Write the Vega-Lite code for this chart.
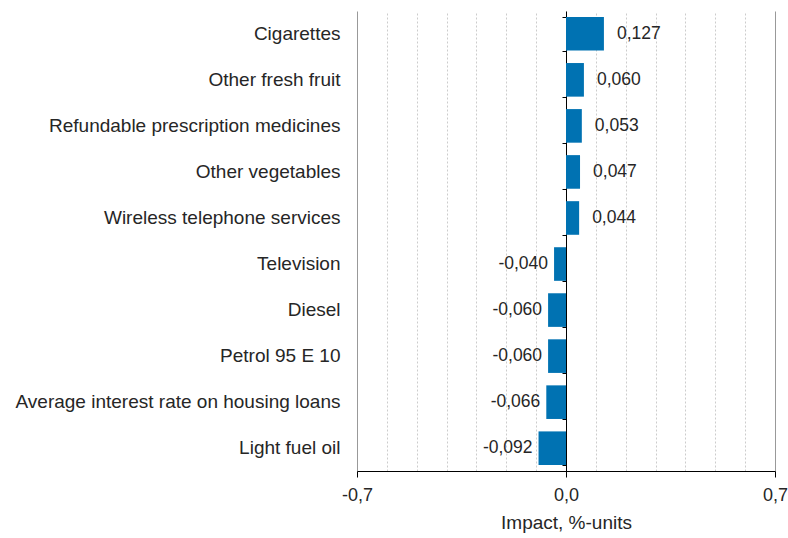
{
  "$schema": "https://vega.github.io/schema/vega-lite/v6.json",
  "width": 418,
  "height": 460,
  "padding": {"left": 15, "top": 11, "right": 6, "bottom": 2},
  "config": {
    "locale": {"number": {"decimal": ",", "thousands": " ", "grouping": [3], "currency": ["", ""], "minus": "-"}},
    "view": {"stroke": null},
    "font": "Liberation Sans"
  },
  "data": {"values": [
    {"item": "Cigarettes", "value": 0.127},
    {"item": "Other fresh fruit", "value": 0.060},
    {"item": "Refundable prescription medicines", "value": 0.053},
    {"item": "Other vegetables", "value": 0.047},
    {"item": "Wireless telephone services", "value": 0.044},
    {"item": "Television", "value": -0.040},
    {"item": "Diesel", "value": -0.060},
    {"item": "Petrol 95 E 10", "value": -0.060},
    {"item": "Average interest rate on housing loans", "value": -0.066},
    {"item": "Light fuel oil", "value": -0.092}
  ]},
  "encoding": {
    "x": {
      "field": "value", "type": "quantitative",
      "scale": {"domain": [-0.7, 0.7], "nice": false, "zero": false},
      "axis": {
        "values": [-0.7, -0.6, -0.5, -0.4, -0.3, -0.2, -0.1, 0, 0.1, 0.2, 0.3, 0.4, 0.5, 0.6, 0.7],
        "format": ".1f",
        "labelExpr": "abs(datum.value) < 0.001 || abs(abs(datum.value) - 0.7) < 0.001 ? datum.label : ''",
        "labelOverlap": false,
        "labelFlush": false,
        "labelFontSize": 18,
        "labelColor": "#262626",
        "labelPadding": 9,
        "title": "Impact, %-units",
        "titleFontSize": 19,
        "titleFontWeight": "normal",
        "titleColor": "#262626",
        "titlePadding": 9,
        "domainColor": "#000000",
        "tickColor": "#000000",
        "tickSize": 6,
        "tickOpacity": {"condition": {"test": "abs(datum.value) < 0.001 || abs(abs(datum.value) - 0.7) < 0.001", "value": 1}, "value": 0},
        "grid": true,
        "gridColor": {"condition": {"test": "abs(abs(datum.value) - 0.7) < 0.001", "value": "#999999"}, "value": "#cccccc"},
        "gridDash": {"condition": {"test": "abs(abs(datum.value) - 0.7) < 0.001 || abs(datum.value) < 0.001", "value": []}, "value": [2, 2]},
        "gridOpacity": 1
      }
    }
  },
  "layer": [
    {
      "mark": {"type": "bar", "color": "#0072b2"},
      "encoding": {
        "y": {
          "field": "item", "type": "nominal", "sort": null,
          "scale": {"paddingInner": 0.27, "paddingOuter": 0.13},
          "axis": {"title": null, "domain": false, "ticks": false, "grid": false, "labelFontSize": 19, "labelColor": "#262626", "labelPadding": 17, "labelLimit": 500}
        }
      }
    },
    {
      "transform": [{"filter": "datum.value > 0"}],
      "mark": {"type": "text", "align": "left", "baseline": "middle", "dx": 13, "fontSize": 17.5, "color": "#262626"},
      "encoding": {
        "y": {
          "field": "item", "type": "nominal", "sort": null,
          "axis": {"orient": "left", "offset": -209, "title": null, "labels": false, "grid": false, "domain": true, "domainColor": "#000000", "ticks": true, "tickColor": "#000000", "tickSize": 4, "tickBand": "extent"}
        },
        "text": {"field": "value", "type": "quantitative", "format": ".3f"}
      }
    },
    {
      "transform": [{"filter": "datum.value < 0"}],
      "mark": {"type": "text", "align": "right", "baseline": "middle", "dx": -6, "fontSize": 17.5, "color": "#262626"},
      "encoding": {
        "y": {"field": "item", "type": "nominal", "sort": null, "axis": null},
        "text": {"field": "value", "type": "quantitative", "format": ".3f"}
      }
    }
  ],
  "resolve": {"axis": {"y": "independent"}}
}
